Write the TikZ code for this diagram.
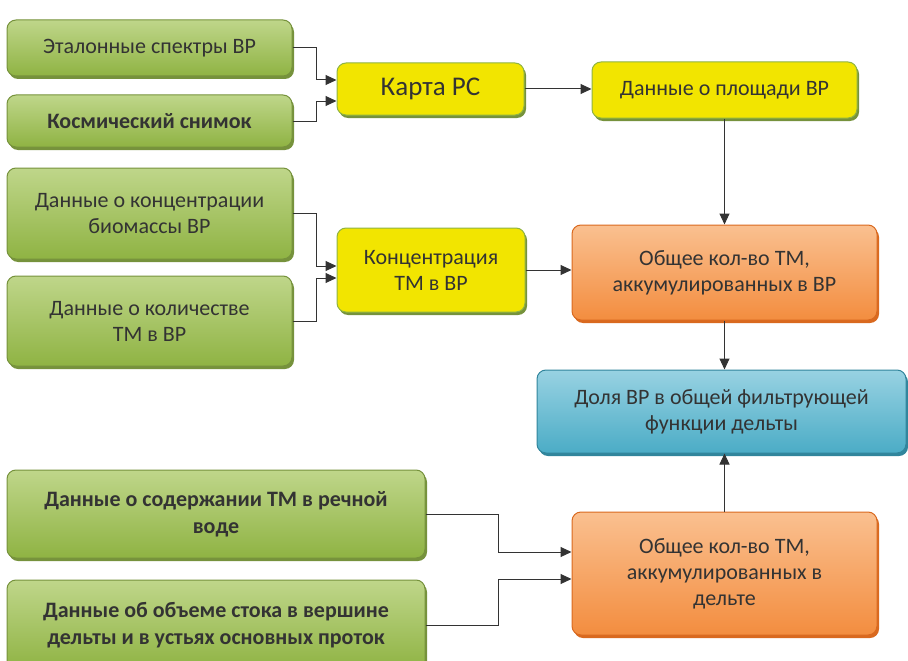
\documentclass[tikz,border=0pt]{standalone}
\usepackage{fontspec}
\setmainfont{Carlito}
\usetikzlibrary{arrows.meta,shadows}

\begin{document}
\begin{tikzpicture}[x=1pt,y=-1pt,
    box/.style={rounded corners=9pt, line width=1pt, align=center,
        text=black!80, font=\fontsize{22}{26}\selectfont, inner sep=2pt},
    greenbox/.style={box, top color=gr_top, bottom color=gr_bot, draw=gr_line,
        drop shadow={shadow xshift=2pt, shadow yshift=-3pt, fill=gr_line, opacity=1}},
    yellowbox/.style={box, fill=ye_fill, draw=gr_bot,
        drop shadow={shadow xshift=2pt, shadow yshift=-3pt, fill=gr_line, opacity=1}},
    orangebox/.style={box, top color=or_top, bottom color=or_bot, draw=or_line,
        drop shadow={shadow xshift=2pt, shadow yshift=-3pt, fill=or_line, opacity=1}},
    bluebox/.style={box, top color=bl_top, bottom color=bl_bot, draw=bl_line,
        drop shadow={shadow xshift=2pt, shadow yshift=-3pt, fill=bl_line, opacity=1}},
    boldtext/.style={font=\fontsize{22}{27}\selectfont\bfseries},
    link/.style={line width=1pt, draw=black!80, -{Triangle[length=11pt,width=10pt]}}]
    \definecolor{gr_top}{HTML}{BFD68A}
    \definecolor{gr_bot}{HTML}{8FB343}
    \definecolor{gr_line}{HTML}{76923C}
    \definecolor{ye_fill}{HTML}{F2E500}
    \definecolor{or_top}{HTML}{FAC090}
    \definecolor{or_bot}{HTML}{F38D3F}
    \definecolor{or_line}{HTML}{D9691F}
    \definecolor{bl_top}{HTML}{98D2E2}
    \definecolor{bl_bot}{HTML}{4BACC6}
    \definecolor{bl_line}{HTML}{31859C}
    %\draw[help lines] (0,0) grid[step=50] (908,661);
    \useasboundingbox (0,0) rectangle (908,661);

    \node[greenbox, minimum width=285pt, minimum height=56pt] (etalon) at (149.5,48) {Эталонные спектры ВР};
    \node[greenbox, boldtext, minimum width=285pt, minimum height=52pt] (snimok) at (149.5,121) {Космический снимок};
    \node[yellowbox, minimum width=187pt, minimum height=52pt, font=\fontsize{27}{32}\selectfont] (karta) at (430.5,89) {Карта РС};
    \node[yellowbox, minimum width=265pt, minimum height=56pt] (ploshad) at (724.5,90) {Данные о площади ВР};

    \node[greenbox, minimum width=285pt, minimum height=91pt] (biomassa) at (149.5,213.5) {Данные о концентрации\\биомассы ВР};
    \node[greenbox, minimum width=285pt, minimum height=90pt] (kolichestvo) at (149.5,321) {Данные о количестве\\ТМ в ВР};
    \node[yellowbox, minimum width=188pt, minimum height=84pt] (koncentr) at (431,270) {Концентрация\\ТМ в ВР};
    \node[orangebox, minimum width=305pt, minimum height=95pt] (obshVR) at (724.5,272.5) {Общее кол-во ТМ,\\аккумулированных в ВР};

    \node[bluebox, minimum width=369pt, minimum height=83pt] (dolya) at (721.5,411.5) {Доля ВР в общей фильтрующей\\функции дельты};

    \node[greenbox, boldtext, minimum width=418pt, minimum height=88pt] (rechVoda) at (216,514) {Данные о содержании ТМ в речной\\воде};
    \node[greenbox, boldtext, minimum width=418pt, minimum height=90pt] (stok) at (216,625) {Данные об объеме стока в вершине\\дельты и в устьях основных проток};
    \node[orangebox, minimum width=305pt, minimum height=123pt] (obshDelta) at (724.5,573.5) {Общее кол-во ТМ,\\аккумулированных в\\дельте};

    \draw[link] (etalon.east) -- (316,48) |- ([yshift=9pt]karta.west);
    \draw[link] (snimok.east) -- (316,121) |- ([yshift=-12pt]karta.west);
    \draw[link] (karta.east) -- (karta.east -| ploshad.west);
    \draw[link] (ploshad.south) -- (obshVR.north);
    \draw[link] (biomassa.east) -- (316,213.5) |- ([yshift=4pt]koncentr.west);
    \draw[link] (kolichestvo.east) -- (316,321) |- ([yshift=-8pt]koncentr.west);
    \draw[link] (koncentr.east) -- (koncentr.east -| obshVR.west);
    \draw[link] (obshVR.south) -- (obshVR.south |- dolya.north);
    \draw[link] (rechVoda.east) -- (498,514) |- ([yshift=21.5pt]obshDelta.west);
    \draw[link] (stok.east) -- (498,625) |- ([yshift=-5.5pt]obshDelta.west);
    \draw[link] (obshDelta.north) -- (obshDelta.north |- dolya.south);
\end{tikzpicture}
\end{document}
